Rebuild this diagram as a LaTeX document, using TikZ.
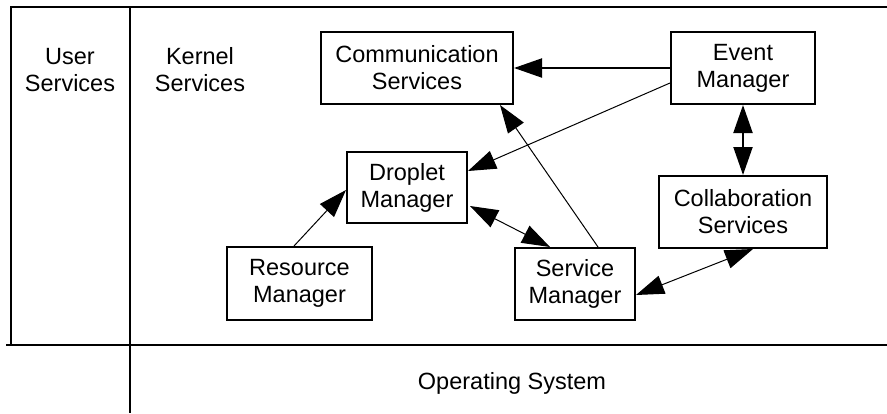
\documentclass[tikz,border=0pt]{standalone}
\usepackage{fontspec}
\setmainfont{Liberation Sans}
\usetikzlibrary{arrows.meta}
\begin{document}
\begin{tikzpicture}[x=1pt,y=-1pt,
  every node/.style={font=\fontsize{23.5}{27}\selectfont, align=center, inner sep=0pt},
  box/.style={draw, line width=2pt, rectangle},
  frame/.style={line width=2pt},
  tip/.style={-{Triangle[length=28pt,width=19pt]}},
  dtip/.style={{Triangle[length=28pt,width=19pt]}-{Triangle[length=28pt,width=19pt]}},
  thinline/.style={line width=1pt},
  thickline/.style={line width=2pt}]
\useasboundingbox (0,0) rectangle (887,413);
% frame
\draw[frame] (887,7) -- (11,7) -- (11,345);
\draw[frame] (6,345) -- (887,345);
\draw[frame] (130,7) -- (130,413);
% labels
\node (user) at (70,70) {User\\Services};
\node (kernel) at (200,70) {Kernel\\Services};
\node (os) at (512,383) {Operating System};
% boxes
\node[box, minimum width=192pt, minimum height=72pt] (comm) at (417,68) {Communication\\Services};
\node[box, minimum width=144pt, minimum height=72pt] (event) at (743,68) {Event\\Manager};
\node[box, minimum width=120pt, minimum height=71pt] (droplet) at (407,187.5) {Droplet\\Manager};
\node[box, minimum width=145pt, minimum height=73pt] (resource) at (299.5,283.5) {Resource\\Manager};
\node[box, minimum width=120pt, minimum height=72pt] (service) at (575,284) {Service\\Manager};
\node[box, minimum width=168pt, minimum height=72pt] (collab) at (743,212) {Collaboration\\Services};
% connectors
\draw[thickline, tip] (event.west) -- (comm.east);
\draw[thickline, dtip] (event.south) -- (collab.north);
\draw[thinline, tip] ([yshift=-15pt]event.west) -- ([yshift=-20pt]droplet.north east);
\draw[thinline, tip] ([xshift=-5.5pt]resource.north) -- ([yshift=-2.5pt]droplet.west);
\draw[thinline, dtip] ([xshift=2pt,yshift=-18.5pt]droplet.east) -- ([xshift=-25pt]service.north);
\draw[thinline, tip] ([xshift=23pt]service.north) -- ([xshift=83pt]comm.south);
\draw[thinline, dtip] ([yshift=-11pt]service.east) -- ([xshift=10pt]collab.south);
\end{tikzpicture}
\end{document}
